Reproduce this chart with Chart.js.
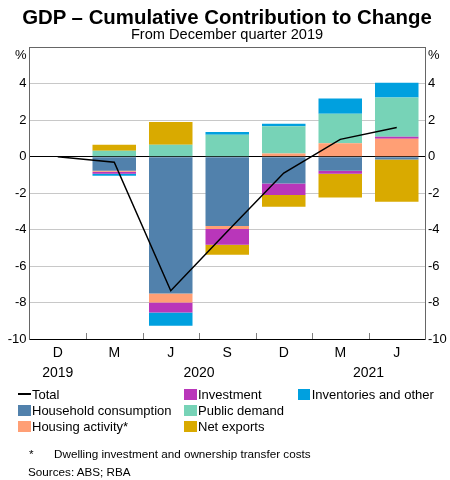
<!DOCTYPE html>
<html><head><meta charset="utf-8">
<script src="https://cdn.jsdelivr.net/npm/chart.js@4"></script>
<style>
html,body{margin:0;padding:0;background:#fff;}
#wrap{position:relative;width:450px;height:480px;font-family:"Liberation Sans",Arial,sans-serif;color:#000;overflow:hidden}
#c{position:absolute;left:0;top:0;}
.t{position:absolute;white-space:nowrap;}
.sw{position:absolute;width:12.5px;height:11px;}
</style></head><body>
<div id="wrap">
<canvas id="c" width="450" height="480"></canvas>
<div class="t" style="left:2px;width:450px;text-align:center;top:6.7px;font-size:20.4px;line-height:20.4px;font-weight:bold">GDP – Cumulative Contribution to Change</div>
<div class="t" style="left:2px;width:450px;text-align:center;top:26.9px;font-size:14.6px;line-height:14.6px">From December quarter 2019</div>
<div class="t" style="right:423.5px;top:47.7px;font-size:13px;line-height:13px">%</div>
<div class="t" style="left:428px;top:47.7px;font-size:13px;line-height:13px">%</div>
<div id="legend"></div>
<div class="t" style="left:29px;top:448.3px;font-size:11.7px;line-height:11.7px">*</div>
<div class="t" style="left:54px;top:448.3px;font-size:11.7px;line-height:11.7px">Dwelling investment and ownership transfer costs</div>
<div class="t" style="left:28px;top:466.3px;font-size:11.7px;line-height:11.7px">Sources: ABS; RBA</div>
</div>
<script>
const categories = ['D','M','J','S','D','M','J'];
const yearLabels = ['2019','2020','2021'];
const yearPos = [0, 2.5, 5.5];
const household = [0, -0.77, -7.5, -3.8, -1.47, -0.77, -0.15];
const housing = [0, -0.05, -0.5, -0.17, 0.17, 0.74, 0.99];
const investment = [0, -0.12, -0.55, -0.86, -0.63, -0.17, 0.11];
const publicDemand = [0, 0.33, 0.66, 1.21, 1.5, 1.62, 2.15];
const netExports = [0, 0.33, 1.24, -0.55, -0.64, -1.3, -2.32];
const inventories = [0, -0.1, -0.72, 0.15, 0.13, 0.83, 0.81];
const total = [0, -0.3, -7.35, -4.1, -0.9, 0.95, 1.6];
const yTicksMin = -10, yTicksMax = 6, yStep = 2;

const barSeries = [
  {label:'Household consumption', data:household, color:'#5181AC'},
  {label:'Housing activity*', data:housing, color:'#FF9F75'},
  {label:'Investment', data:investment, color:'#B936BA'},
  {label:'Public demand', data:publicDemand, color:'#77D3B7'},
  {label:'Net exports', data:netExports, color:'#D9AA00'},
  {label:'Inventories and other', data:inventories, color:'#00A0DF'}
];

Chart.defaults.font.family = '"Liberation Sans", Arial, sans-serif';
Chart.defaults.color = '#000';

const extras = {
  id:'extras',
  afterDraw(chart){
    const {ctx, chartArea, scales:{x}} = chart;
    ctx.save();
    ctx.strokeStyle = '#808080'; ctx.lineWidth = 1;
    for(let i=0;i<categories.length-1;i++){
      const px = Math.round((x.getPixelForValue(i)+x.getPixelForValue(i+1))/2)+0.5;
      ctx.beginPath(); ctx.moveTo(px, chartArea.bottom); ctx.lineTo(px, chartArea.bottom-6); ctx.stroke();
    }
    ctx.fillStyle = '#000';
    ctx.font = '14px "Liberation Sans", Arial, sans-serif';
    ctx.textAlign = 'center'; ctx.textBaseline = 'alphabetic';
    yearLabels.forEach((yl,k)=>{
      const pos = yearPos[k]; const i0 = Math.floor(pos), f = pos - i0;
      const px = f ? x.getPixelForValue(i0)*(1-f) + x.getPixelForValue(i0+1)*f : x.getPixelForValue(i0);
      ctx.fillText(yl, px, chartArea.bottom + 37.7);
    });
    ctx.restore();
  }
};

const datasets = [
  {type:'line', label:'Total', data:total, borderColor:'#000', borderWidth:1.5, pointRadius:0, tension:0, order:0, stack:'total', fill:false}
].concat(barSeries.map(s=>({type:'bar', label:s.label, data:s.data, backgroundColor:s.color, borderWidth:0, order:1, stack:'bars', barPercentage:0.77, categoryPercentage:1})));

const tickOpts = {stepSize:yStep, padding:3, font:{size:13}, color:'#000', callback:v=> v===yTicksMax ? '' : String(v)};

new Chart(document.getElementById('c'), {
  data:{labels:categories, datasets},
  options:{
    responsive:false, animation:false,
    layout:{padding:{top:47.3, left:0, right:0, bottom:0}},
    plugins:{legend:{display:false}, title:{display:false}, tooltip:{enabled:false}},
    scales:{
      x:{stacked:true, grid:{display:false, drawTicks:false}, border:{color:'#000'},
         ticks:{padding:6, font:{size:14}, color:'#000', maxRotation:0, autoSkip:false},
         afterFit(s){ s.height = 141; }},
      y:{position:'left', stacked:true, min:yTicksMin, max:yTicksMax, ticks:tickOpts,
         grid:{color:c=> c.tick.value===0 ? '#000' : (c.tick.value===yTicksMax ? '#666' : '#c8c8c8'), drawTicks:false},
         border:{color:'#666'}, afterFit(s){ s.width = 29.5; }},
      y2:{position:'right', min:yTicksMin, max:yTicksMax, ticks:tickOpts,
         grid:{drawOnChartArea:false, drawTicks:false}, border:{color:'#666'},
         afterFit(s){ s.width = 25; }}
    }
  },
  plugins:[extras]
});

// legend (column-major, 3 rows)
const legendItems = [{label:'Total', color:'#000', line:true}].concat(barSeries.map(s=>({label:s.label, color:s.color})));
const colX = [18, 184, 297.7];
const rowY = [394, 410.7, 426.7];
const lg = document.getElementById('legend');
legendItems.forEach((it,i)=>{
  const col = Math.floor(i/3), row = i%3;
  const sw = document.createElement('div');
  sw.className = 'sw';
  sw.style.left = colX[col]+'px';
  if(it.line){ sw.style.height='2.5px'; sw.style.top=(rowY[row]-1.25)+'px'; }
  else { sw.style.top=(rowY[row]-5.5)+'px'; }
  sw.style.background = it.color;
  lg.appendChild(sw);
  const tx = document.createElement('div');
  tx.className = 't';
  tx.style.left = (colX[col]+14)+'px';
  tx.style.top = (rowY[row]-6.4)+'px';
  tx.style.fontSize = '13px'; tx.style.lineHeight = '13px';
  tx.textContent = it.label;
  lg.appendChild(tx);
});
</script>
</body></html>
